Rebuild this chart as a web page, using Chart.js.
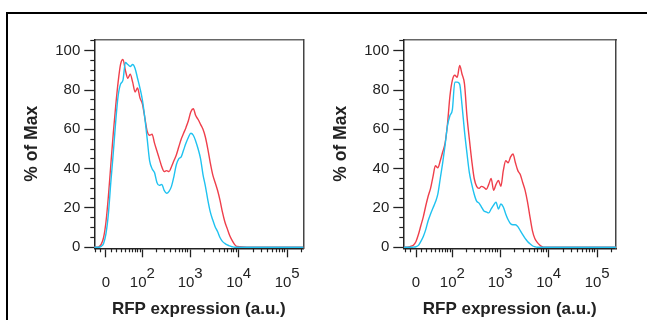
<!DOCTYPE html>
<html><head><meta charset="utf-8">
<script src="https://cdn.jsdelivr.net/npm/chart.js@4.4.1/dist/chart.umd.min.js"></script>
<style>
html,body{margin:0;padding:0;background:#fff;width:647px;height:320px;overflow:hidden;position:relative}
#frame{position:absolute;left:6px;top:12px;width:700px;height:400px;border-top:2px solid #000;border-left:2px solid #000;box-sizing:border-box}
canvas{position:absolute;top:0}
#c1{left:0}
#c2{left:323px}
</style></head><body>
<div id="frame"></div>
<canvas id="c1" width="323" height="320"></canvas>
<canvas id="c2" width="324" height="320"></canvas>
<script>
// RFP expression channel values (a.u.)
const rfpBins = [-22.4, -17.6, -13.0, -8.5, -4.2, 0,
  4.2, 8.5, 13.0, 17.6, 22.4, 27.5, 33.0, 38.9, 45.3, 52.4,
  60.1, 68.6, 78.1, 88.6, 100.2, 113.2, 127.7, 143.8, 161.9, 182.2,
  204.8, 230.2, 258.6, 290.5, 326.2, 366.2, 411.1, 461.5, 517.9, 581.3,
  652.3, 732.1, 821.5, 921.8, 1034, 1161, 1302, 1461, 1640, 1840,
  2064, 2316, 2599, 2916, 3272, 3671, 4119, 4622, 5186, 5819,
  6529, 7325, 8219, 9222,
  18400, 58190, 184000, 259900];

// % of Max, left panel
const leftRed = [0,0,0.3,1.5,5,13,
  26,42,58,72,84,93,95.5,90,86,88,
  84,79,81,76,73,66,59,57,57.5,53,
  49,45,41,38.5,39,38.5,41,44,47,51,
  55,58,61,64.5,69,70.5,67,65,62.5,60,
  56,50,43,37,33,29,24,18,13,9.5,
  6,3.5,1.5,0.4,
  0,0,0,0];
const leftCyan = [0,0,0,0.5,2,7,
  17,33,48,64,77,83,85,94,93,92,
  93,91,86,81,75,66,55,44,40,38,
  33,31.5,32,29,27.5,28.5,31,36,42,45,
  46,49.5,53,56,58,57,54,50,45,37,
  31,24,18,14,10.5,8,5,3,2,1.2,
  0.7,0.3,0,0,
  0,0,0,0];

// % of Max, right panel
const rightRed = [0,0,0.2,0.6,1.2,3,
  6.5,11,15.5,21,26,30,36,41.5,40.5,44,
  48.5,53,63,77,85,87.5,86.5,92.5,88,83,
  67,55,44,35,31,30,31,30.5,29.5,32,
  35,29,32,34,31,39,44,43,46,47.5,
  43,39,37,33,29,23,15.5,8.5,4.5,2.5,
  1.2,0.3,0,0,
  0,0,0,0];
const rightCyan = [0,0,0,0,0.1,0.3,
  1,3,5.5,9,13.5,17,20,23,27,35,
  43,52,62,67,70,84,84,83,72,59,
  48,38,32,27,23.5,22.5,20.5,18.5,18,17.5,
  19.5,21.5,23,19.5,22,20.5,17,14,12,11.5,
  11.5,10.5,8.5,6.5,4.5,3,1.8,0.8,0.3,0,
  0,0,0,0,
  0,0,0,0];

const yMajorTicks = [0, 20, 40, 60, 80, 100];
const yMinorTicks = [5, 10, 15, 25, 30, 35, 45, 50, 55, 65, 70, 75, 85, 90, 95, 105];
const xMajorTicks = [0, 100, 1000, 10000, 100000];
const xMajorLabels = ['0', '10^2', '10^3', '10^4', '10^5'];
const xMinorTicks = [-20, -10, 10, 20, 30, 40, 50, 60, 70, 80, 90,
  200, 300, 400, 500, 600, 700, 800, 900,
  2000, 3000, 4000, 5000, 6000, 7000, 8000, 9000,
  20000, 30000, 40000, 50000, 60000, 70000, 80000, 90000, 200000];
const xTitle = 'RFP expression (a.u.)';
const yTitle = '% of Max';

const RED = '#ef3f4b';
const CYAN = '#1fc2f0';
const FAM = "'Liberation Sans', Arial, sans-serif";
const BIEX_W = 36.8;
function biex(v) { return Math.asinh(v / BIEX_W) / Math.LN10; }

const xLabelLines = xMajorLabels.map(s => {
  const p = s.split('^');
  return p.length > 1 ? ['', '    ' + p[1], p[0] + '  '] : ['', '', p[0]];
});

function makeChart(id, redVals, cyanVals, g) {
  const toPts = vals => rfpBins.map((v, i) => ({x: biex(v), y: vals[i]}));
  const yMin = -0.5, yMax = 105.8;
  const ds = (vals, col) => ({data: toPts(vals), borderColor: col, borderWidth: 1.4,
    pointRadius: 0, fill: false, tension: 0.3, cubicInterpolationMode: 'monotone'});
  new Chart(document.getElementById(id), {
    type: 'line',
    data: {datasets: [ds(cyanVals, CYAN), ds(redVals, RED)]},
    options: {
      responsive: false, animation: false, events: [],
      layout: {padding: {left: g.padL, right: g.padR, top: 39.3, bottom: 0}},
      plugins: {legend: {display: false}, tooltip: {enabled: false}},
      scales: {
        x: {
          type: 'linear', position: 'bottom', weight: 1, min: g.xmin, max: g.xmax, bounds: 'data',
          afterBuildTicks: ax => { ax.ticks = xMajorTicks.map(v => ({value: biex(v)})); },
          afterFit: ax => { ax.height = 71.7; },
          grid: {drawOnChartArea: false, drawTicks: true, tickLength: 9, tickColor: '#222', tickWidth: 1.3},
          border: {display: true, color: '#222', width: 1.5},
          ticks: {autoSkip: false, maxRotation: 0, minRotation: 0, padding: 4, color: '#222',
            font: {family: FAM, size: 15, lineHeight: 8.5 / 15},
            callback: (v, i) => xLabelLines[i]},
          title: {display: true, text: xTitle, color: '#222', padding: 0,
            font: {family: FAM, size: 17, weight: 'bold'}}
        },
        x2: {
          type: 'linear', position: 'bottom', weight: 0, min: g.xmin, max: g.xmax, bounds: 'data',
          afterBuildTicks: ax => { ax.ticks = xMinorTicks.map(v => ({value: biex(v)})); },
          afterFit: ax => { ax.height = 0; },
          grid: {drawOnChartArea: false, drawTicks: true, tickLength: 4, tickColor: '#222', tickWidth: 1.2},
          border: {display: false},
          ticks: {display: false}
        },
        xT: {
          type: 'linear', position: 'top', min: g.xmin, max: g.xmax, bounds: 'data',
          afterFit: ax => { ax.height = 0; },
          grid: {drawOnChartArea: false, drawTicks: false},
          border: {display: true, color: '#666', width: 1.5},
          ticks: {display: false}
        },
        y: {
          type: 'linear', position: 'left', weight: 1, min: yMin, max: yMax, bounds: 'data',
          afterBuildTicks: ax => { ax.ticks = yMajorTicks.map(v => ({value: v})); },
          afterFit: ax => { ax.width = g.yWidth; },
          grid: {drawOnChartArea: false, drawTicks: true, tickLength: 10, tickColor: '#222', tickWidth: 1.3},
          border: {display: true, color: '#222', width: 1.5},
          ticks: {padding: 4, color: '#222', font: {family: FAM, size: 15},
            callback: v => String(v)},
          title: {display: true, text: yTitle, color: '#222', padding: 0,
            font: {family: FAM, size: 17.5, weight: 'bold'}}
        },
        y2: {
          type: 'linear', position: 'left', weight: 0, min: yMin, max: yMax, bounds: 'data',
          afterBuildTicks: ax => { ax.ticks = yMinorTicks.map(v => ({value: v})); },
          afterFit: ax => { ax.width = 0; },
          grid: {drawOnChartArea: false, drawTicks: true, tickLength: 4, tickColor: '#222', tickWidth: 1.2},
          border: {display: false},
          ticks: {display: false}
        },
        yR: {
          type: 'linear', position: 'right', min: yMin, max: yMax, bounds: 'data',
          afterFit: ax => { ax.width = 0; },
          grid: {drawOnChartArea: false, drawTicks: false},
          border: {display: true, color: '#444', width: 1.5},
          ticks: {display: false}
        }
      }
    }
  });
}

makeChart('c1', leftRed, leftCyan, {padL: 21.2, yWidth: 73.1, padR: 19.7, xmin: -0.241, xmax: 4.068});
makeChart('c2', rightRed, rightCyan, {padL: 7.5, yWidth: 72.8, padR: 31, xmin: -0.262, xmax: 4.124});
</script>
</body></html>
